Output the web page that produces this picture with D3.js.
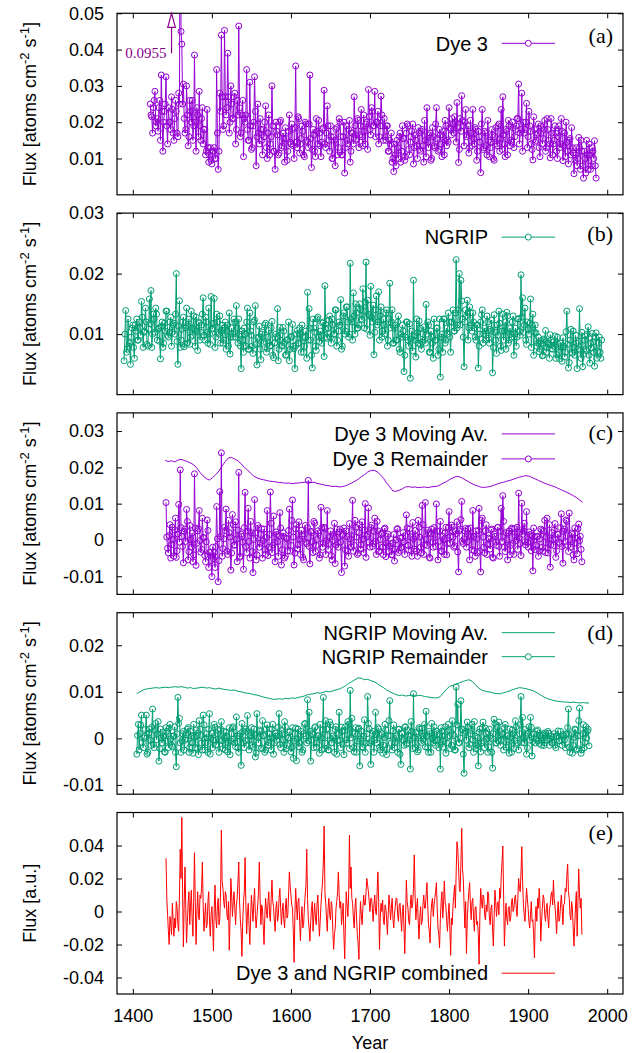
<!DOCTYPE html>
<html>
<head>
<meta charset="utf-8">
<script src="https://cdn.jsdelivr.net/npm/d3@7/dist/d3.min.js"></script>
<style>
  body { margin: 0; background: #fff; }
  svg { display: block; font-family: "Liberation Sans", Arial, sans-serif; }
  .tick-label { font-size: 18px; fill: #000; }
  .legend-text { font-size: 20px; }
  .panel-label { font-family: "Liberation Serif", "Times New Roman", serif; font-size: 22px; }
</style>
</head>
<body>
<div id="chart"></div>
<script>
// All fluxes below are in units of 10^-3 (atoms cm^-2 s^-1, or a.u. for the combined series)
// Each series is yearly unless a step is given

// (a) Dye 3 raw, 1422-1986
const dye3Start = 1422;
const dye3 = [
  25, 22, 21.5, 17, 24, 26, 28.5, 19, 20, 21, 17.5, 24, 26, 15, 33, 23, 12, 20, 23, 25,
  32.5, 19, 14, 24, 20, 20, 18, 27, 23.5, 17, 15, 21, 26, 23, 17, 16, 28, 25, 95.5, 45,
  41.5, 25, 30.5, 21, 17, 18, 30, 22, 13.5, 16, 26, 23, 20, 26, 15, 19, 38.5, 20, 12, 24,
  22, 16, 28.5, 19, 15, 21, 24, 14, 18, 18, 11, 12, 23.5, 13, 9, 11, 13, 9.5, 8.5, 12,
  12, 13, 10, 10, 34.5, 17, 7, 12, 28, 23, 44, 27, 18, 19, 45.3, 27, 22, 24, 39, 27,
  17, 20, 30, 25, 21, 21, 27, 28, 14, 18, 26, 22, 46.5, 24, 16, 17, 22, 26, 10.5, 21,
  20, 22, 34.5, 18, 15, 15, 31, 19, 12.5, 13, 19, 20, 32.5, 23, 8, 16, 25, 17, 14, 21,
  18, 15, 11, 18, 16, 20, 24.5, 13, 10, 17, 22, 11, 14, 16, 30, 19, 12, 12, 7, 20,
  17.5, 16.5, 11, 11.5, 20, 20.5, 13, 13.5, 17, 15.5, 9, 18.5, 15.5, 9.5, 12, 17.5, 22, 14.5, 14, 19.5,
  18, 13.5, 10, 18.5, 35.5, 14.5, 13, 21.5, 21, 11.5, 14, 15.5, 19, 17.5, 11, 10.5, 20, 19.5, 15, 14.5,
  13, 19.5, 33, 15.5, 7.5, 12.5, 18, 16.5, 12, 10.5, 21, 17.5, 14, 20.5, 17, 13.5, 10.5, 14.5, 18, 18.5,
  28.8, 14, 13, 17, 24.5, 19, 15, 12, 19, 16, 10, 10, 16, 15, 8, 18, 18.5, 11, 13, 21,
  20, 16, 11, 11, 16, 20, 6, 13, 19, 15, 14, 18, 20.5, 9, 12, 17, 17, 14, 27, 19,
  15, 15.5, 21, 20.5, 13, 16.5, 19, 23.5, 16, 13.5, 22, 17.5, 14, 19.5, 20, 12.5, 29, 21.5, 18, 16.5,
  24, 23, 19, 19, 28.5, 16, 20, 20, 23, 14, 16, 19, 27.2, 22, 19, 15, 21, 16, 15, 19,
  19, 12, 12, 15, 14, 17, 9, 10, 6.4, 14, 11, 8, 15, 13, 10, 16, 17, 9, 12, 19,
  15.5, 15.5, 9.5, 10.5, 17, 19.5, 19, 12.5, 11, 14.5, 16, 17.5, 19.5, 8.5, 13, 16.5, 15, 13.5, 10, 18.5,
  17, 12.5, 12, 17.5, 18, 13.5, 9, 20.5, 15, 10.5, 24, 14.5, 13, 16.5, 17, 9.5, 10, 18.5, 16, 13.5,
  13, 19.5, 24, 15.5, 12, 12.5, 18, 16.5, 14, 10.5, 16, 17.5, 11, 20.5, 19, 13.5, 15, 14.5, 24, 18.5,
  18, 16.5, 21, 19.5, 17, 21.5, 20, 14.5, 25.4, 18.5, 8.9, 12.5, 21, 17.5, 27.3, 20.5, 19, 13.5, 20, 23.5,
  16, 16.5, 19, 11.5, 13, 20.5, 17, 13.5, 23.5, 15.5, 14, 18.5, 18, 9.5, 12, 17.5, 16, 14.5, 6.1, 19.5,
  23.5, 12.5, 13, 17.5, 17, 13.5, 11, 20.5, 15, 10.5, 13, 14.5, 18, 16.5, 10, 9.5, 16, 18.5, 14, 13.5,
  19, 19.5, 12, 15.5, 23.5, 12.5, 27, 16.5, 14, 10.5, 18, 17.5, 11, 20.5, 19, 13.5, 15, 14.5, 20, 18.5,
  13, 16, 18, 19, 21, 21, 30.5, 14, 17, 18, 28, 12, 20, 17, 18, 20, 25.2, 13, 16, 23,
  19, 17.5, 14, 12.5, 9.6, 21.5, 18, 14.5, 15, 16.5, 17, 19.5, 13, 10.5, 19, 18.5, 14, 15.5, 18, 20.5,
  12, 13, 21, 18, 15, 14, 10.2, 21, 17, 11, 14, 15, 19, 17, 12, 10, 16, 19, 13, 14,
  21, 17.5, 9.4, 13.5, 17, 10.5, 20, 14.5, 12, 8.5, 15, 15.5, 11, 18.5, 13, 11.5, 5.8, 9.5, 11, 13,
  8, 10, 15.8, 13, 7, 15, 12, 8, 4.6, 12, 10, 6, 15, 11, 7, 14, 11, 7, 8, 13,
  12, 10, 14.9, 8, 4.6
];

// (b) NGRIP raw, 1389-1993
const ngripStart = 1389;
const ngrip = [
  5.6, 10, 13.9, 7, 7.5, 12.5, 8.0, 8.5, 5.0, 9.5, 11.0, 11.5, 7.8, 6, 11.5, 10.5, 12.5, 9, 9.0, 12,
  11.0, 9.8, 15.4, 12.8, 7.8, 10.3, 10.5, 14.3, 12.0, 8.3, 8.0, 10.8, 15.8, 11.8, 17.2, 7.8, 10.0, 13.3, 12.5, 10.3,
  14.3, 13.3, 9.0, 10.8, 11.0, 8.8, 5.9, 11.3, 12.0, 7.8, 8.5, 11.8, 10.5, 13.8, 13.8, 9.8, 9.5, 10.3, 12.0, 12.8,
  8.0, 10.3, 11.5, 11.8, 10.0, 13.3, 20.0, 8.8, 5.0, 11.3, 15.5, 7.8, 9.0, 10.8, 12.0, 12.8, 7.9, 8.3, 11.0, 14.3,
  8.5, 11.3, 12.5, 8.3, 9.5, 13.8, 11.0, 9.8, 13.0, 10.8, 8.0, 12.8, 10.5, 7.3, 12.0, 11.8, 9.0, 10.3, 11.5, 13.3,
  16.0, 9.8, 9.0, 12.8, 12.0, 10.3, 8.5, 14.3, 10.0, 8.3, 16.2, 10.8, 11.0, 11.8, 15.9, 7.8, 9.5, 13.3, 12.0, 10.3,
  10.0, 13, 8.5, 10.5, 11.5, 8.5, 9.0, 11, 12.0, 7.5, 10.5, 11.5, 8.0, 13.5, 6.7, 9.5, 11.0, 10, 9.5, 12.5,
  12.0, 9.5, 14.7, 11, 8.5, 12.5, 10.0, 8, 4.3, 10.5, 9.0, 7, 11.0, 10, 8.0, 12, 14.3, 7.5, 7.5, 13.5,
  10.5, 9.8, 8.0, 6.8, 12.0, 12.3, 14.7, 8.3, 4.9, 9.3, 9.5, 11.3, 7.5, 5.8, 10.0, 10.3, 8.5, 8.8, 11.5, 11.8,
  7.0, 7.6, 9.5, 10.6, 8.0, 8.1, 11.0, 12.1, 6.5, 6.1, 8.5, 8.6, 10.0, 9.6, 14.2, 5.6, 7.5, 11.1, 9.0, 8.1,
  8.0, 11.1, 10.5, 8.6, 6.5, 6.6, 9.0, 9.1, 12.0, 5.6, 7.5, 9.6, 9.5, 11.6, 8.0, 7.6, 4.3, 8.1, 10.0, 10.6,
  8.5, 8.5, 11.0, 10, 7.0, 11.5, 9.5, 7, 8.0, 9.5, 10.5, 6, 16.9, 9, 14.2, 11, 9.0, 6.5, 4.4, 12.5,
  11.0, 10.3, 8.0, 7.3, 12.5, 12.8, 9.5, 8.8, 10.5, 9.8, 8.5, 11.8, 12.0, 6.3, 18.0, 10.8, 9.5, 9.3, 11.0, 12.3,
  13.0, 9.5, 8.5, 12.5, 11.5, 10, 10.0, 14, 14.0, 8, 9.0, 10.5, 12.0, 11.5, 15.7, 7.5, 8.0, 13, 13.5, 10,
  10.5, 14.5, 14.5, 12, 9.5, 10, 21.7, 12.5, 12.0, 9, 16.8, 13, 10.0, 15, 13.5, 11, 11.0, 11.5, 15.0, 14,
  12.5, 12.3, 17.5, 13.8, 11.0, 15.3, 21.9, 10.8, 15.6, 13.3, 13.0, 9.8, 17.9, 12.8, 12.0, 14.8, 6.6, 10.3, 14.0, 16.3,
  11.5, 12, 17.0, 9, 13.0, 14.5, 9.5, 10.5, 12.5, 11.5, 10.0, 13.5, 14.0, 8, 9.0, 12.5, 18.4, 11, 12.0, 14,
  8.5, 8.5, 11.0, 11.5, 9.0, 9, 12.0, 13, 7.5, 7, 10.0, 9.5, 11.5, 10.5, 3.8, 6.5, 9.5, 12, 12.0, 9,
  8.0, 11.7, 2.7, 9.2, 10.5, 7.2, 18.9, 9.7, 9.0, 6.2, 12.5, 10.2, 8.5, 12.2, 11.0, 8.2, 7.5, 8.7, 10.0, 11.2,
  9.0, 8.5, 14.9, 10, 12.0, 11.5, 7.0, 7, 10.5, 9.5, 8.5, 6, 12.5, 9, 9.0, 11, 11.0, 6.5, 7.5, 12.5,
  2.9, 9.5, 10.0, 7, 12.5, 12.5, 8.5, 9, 11.0, 10, 13.5, 12, 9.5, 7, 12.0, 12, 14.0, 10.5, 10.5, 13.5,
  22.3, 11, 11.5, 14, 20.0, 11.5, 18.9, 15.5, 12.5, 9.5, 4.6, 12, 14.0, 13, 15.6, 9, 11.0, 14.5, 13.5, 11.5,
  10.5, 13.5, 12.0, 11, 9.5, 9, 11.5, 11.5, 4.4, 8, 10.0, 12, 13.2, 14, 8.5, 10, 11.0, 10.5, 9.0, 13,
  12.0, 9.3, 8.5, 10.8, 10.5, 12.3, 3.6, 7.8, 13.2, 10.3, 9.0, 6.8, 11.5, 9.8, 13.8, 11.8, 8.0, 7.3, 10.5, 13.3,
  9.0, 10.5, 12.0, 7.5, 13.6, 13, 8.5, 9, 11.0, 10, 9.5, 12, 13.0, 6.5, 10.0, 11, 8.0, 9.5, 12.5, 12.5,
  10.5, 9.8, 19.8, 12.8, 16.0, 10.3, 11.5, 14.3, 9.0, 8.3, 12.0, 10.8, 10.0, 11.8, 15.8, 7.8, 11.5, 13.3, 6.5, 10.3,
  11.5, 10.2, 8.0, 8.5, 9.5, 7.1, 7.5, 8.9, 8.5, 6.4, 6.5, 9.2, 9.0, 10.6, 7.0, 7.8, 8.5, 8.2, 6.0, 9.9,
  9.0, 7.6, 7.5, 8.7, 8.0, 9.7, 6.0, 6.6, 9.5, 8.3, 7.0, 5.9, 8.5, 8, 5.5, 9.4, 8.0, 6.2, 7.0, 10.4,
  13.8, 8.3, 4.4, 5.3, 9.0, 10.8, 7.0, 6.8, 10.5, 7.8, 6.5, 9.8, 8.5, 4.3, 7.5, 8.8, 14.2, 7.3, 6.0, 10.3,
  4.6, 6.7, 9.0, 9.7, 7.5, 7.2, 10.0, 11.2, 6.5, 5.2, 8.5, 7.7, 10.1, 8.7, 7.0, 4.7, 9.5, 10.2, 6.0, 7.2,
  8.5, 9.5, 7.0, 6, 9.0
];

// (c) Dye 3 moving average, 1441-1969, every 4 years
const dye3MAStart = 1441;
const dye3MAStep = 4;
const dye3MA = [
  21.9, 21.6, 21.8, 21.5, 22.0, 22.2, 21.9, 21.6, 21.2, 20.7,
  19.8, 18.6, 17.6, 16.9, 16.5, 17.2, 18.0, 19.0, 20.4, 21.6,
  22.6, 22.7, 22.3, 21.8, 21.0, 20.0, 19.3, 18.4, 17.6, 17.1,
  16.8, 16.6, 16.4, 16.2, 16.1, 16.0, 15.8, 15.8, 15.6, 15.7,
  15.5, 15.6, 15.7, 15.8, 15.9, 15.9, 15.8, 15.9, 15.6, 15.4,
  15.2, 15.0, 14.9, 14.7, 14.8, 14.6, 14.7, 14.9, 15.3, 15.7,
  16.2, 16.7, 17.4, 18.0, 18.7, 19.1, 19.2, 18.8, 18.0, 17.0,
  15.7, 14.6, 13.5, 13.4, 13.7, 14.1, 14.6, 14.7, 14.5, 14.6,
  14.4, 14.5, 14.6, 14.4, 14.6, 14.7, 14.8, 15.2, 15.7, 16.1,
  16.7, 17.1, 17.5, 17.4, 17.0, 16.5, 16.0, 15.5, 15.1, 14.8,
  14.5, 14.5, 14.6, 14.8, 15.1, 15.4, 15.7, 15.9, 16.2, 16.4,
  16.7, 17.0, 17.3, 17.5, 17.7, 17.6, 17.2, 16.8, 16.4, 16.0,
  15.6, 15.3, 15.0, 14.7, 14.3, 13.9, 13.5, 13.1, 12.7, 12.2,
  11.7, 11.0, 10.4
];

// (c) Dye 3 remainder, 1442-1968
const dye3RemStart = 1442;
const dye3Rem = [
  10.3, 0.8, -2.3, -3.6, 1.2, 4.2, -5.0, -1.3, 3.5, 0.2, -4.5, 2.7, 6.0, -4.8, -3.0, 1.6, 9.8, -0.6, 19.3, 3.4,
  1.0, -1.8, -6.3, 2.4, 3.0, -0.4, 8.4, 5.1, -5.5, -3.2, 4.0, 0.1, -2.0, 1.9, -6.0, -4.1, 18.2, 3.3, -7.0, -0.9,
  2.5, 3.1, 8.1, -0.2, -3.4, -2.6, 6.0, 0.7, 0.6, -4.3, -6.0, -0.5, 5.5, 2.6, -7.6, -3.4, -3.5, -5.7, -10.1, -2,
  -5.1, -3.5, -7.6, -1.8, 9.2, 0.3, -11.5, -5.7, 13.3, 0.9, 24.0, -4.5, -2.4, 0.3, 3.5, 2.6, 8.5, -3.1, -4.0, 5.4,
  2.0, 0.8, -8.3, -3.6, 7.0, 4.2, -1.5, -1.3, 5.0, 0.2, -6.0, 2.7, 18.6, -4.8, -4.5, 1.6, 1.0, -0.6, -8.1, 3.4,
  13.1, -1.8, -3.5, 2.4, 8.7, -0.4, -5.0, 5.1, 2.0, -3.2, -9.0, 0.1, 11.1, 1.9, -5.5, -4.1, 4.0, 3.3, -2.0, -0.9,
  1.5, 3.1, -5.0, -0.2, 3.0, -2.6, -4.0, 0.7, 8.1, -4.3, -2.0, 1.5, 13.2, 4.6, -3.5, -1.4, 6.6, -0.7, -6.0, 2.2,
  1.5, -0.5, -4.5, 1.2, 7.5, 3.3, -6.9, -2.7, 2.0, 0.9, -5.0, -4.5, 0.5, 0.3, -3.0, 2.6, 8.5, -3.1, -1.5, 5.4,
  11.0, 0.8, -6.9, -3.6, 3.0, 4.2, -2.5, -1.3, 5.0, 0.2, -4.0, 2.7, 1.0, -4.8, -5.5, 1.6, 4.0, -0.6, -1.0, 3.4,
  16.4, -1.8, -6.6, 2.4, 2.0, -0.4, -3.5, 5.1, 4.6, -3.2, -1.5, 0.1, 2.5, 1.9, -5.0, -4.1, 9.0, 3.3, -2.0, -0.9,
  3.5, 3.1, -4.0, -0.2, 8.1, -2.6, -1.0, 0.7, 2.5, -4.3, -5.5, 1.5, 1.0, 4.6, -6.5, -1.4, 3.0, -0.7, -2.0, 2.2,
  3.0, -0.5, -9.0, 1.2, 1.5, 3.3, -7.2, -2.7, 2.5, 0.9, -3.0, -4.5, 4.5, 0.3, -2.0, 2.6, 10.9, -3.1, -1.5, 5.4,
  3.5, 0.8, -4.0, -3.6, 2.0, 4.2, -2.5, -1.3, 5.0, 0.2, -3.5, 2.7, 10.0, -4.8, 1.0, 1.6, 8.8, -0.6, -2.0, 3.4,
  4.1, -1.8, -1.0, 2.4, 6.0, -0.4, -4.0, 5.1, 2.5, -3.2, -3.0, 0.1, 1.5, 1.9, -2.0, -4.1, 3.0, 3.3, -4.6, -0.9,
  1.0, 1.6, -3.2, -1.7, -1.0, -4.1, -4.0, -0.8, 1.5, -5.8, -2.5, 0, 3.0, 3.1, -3.5, -2.9, 0.5, -2.2, -2.0, 0.7,
  2.0, -0.5, -4.0, 1.2, 6.9, 3.3, -1.5, -2.7, 3.0, 0.9, -3.0, -4.5, 4.8, 0.3, -2.5, 2.6, 1.0, -3.1, -4.5, 5.4,
  3.5, 0.8, -2.0, -3.6, 9.5, 4.2, -4.0, -1.3, 10.3, 0.2, -1.5, 2.7, 2.0, -4.8, -5.0, 1.6, 3.0, -0.6, -2.0, 3.4,
  1.5, -1.8, 9.9, 2.4, -5.5, -0.4, 2.5, 5.1, -3.0, -3.2, 1.0, 0.1, -4.0, 1.9, 3.5, -4.1, -1.0, 3.3, 7.8, -0.9,
  1.0, 4.1, 3.5, 0.8, -2.0, -1.6, 2.5, 1.7, 5.0, -3.3, -8.8, 2.5, 3.0, 5.6, 10.6, -0.4, -1.0, 0.3, 2.5, 3.2,
  -2.0, -0.5, 3.0, 1.2, -5.5, 3.3, 1.0, -2.7, 8.1, 0.9, -3.0, -4.5, 2.5, 0.3, -3.5, 2.6, 8.7, -3.1, -8.8, 5.4,
  6.0, 0.8, -2.0, -3.6, 2.5, 4.2, -4.0, -1.3, 0.5, 0.2, -2.5, 2.7, 3.0, -4.8, -5.0, 1.6, 1.0, -0.6, -1.5, 3.4,
  3.5, -1.8, -4.5, 2.4, 8.7, -0.4, 12.2, 5.1, -2.0, -3.2, 2.0, 0.1, -5.5, 1.9, 2.5, -4.1, -1.5, 3.3, 3.0, -0.9,
  -4.0, 3.1, 1.0, -0.2, 3.5, -2.6, 12.9, 0.7, -1.0, -4.3, 10.1, 1.5, 2.5, 4.6, -0.5, -1.4, 7.8, -0.7, -2.0, 2.2,
  1.5, -0.5, -3.0, 1.2, -8.5, 3.3, 1.0, -2.7, -1.5, 0.9, 1.0, -4.5, -3.0, 0.3, 3.0, 2.6, -2.0, -3.1, 2.5, 5.4,
  -3.5, 0.8, 6.0, -3.6, -1.0, 4.2, -7.5, -1.3, 2.0, 0.2, -1.5, 2.7, 4.5, -4.8, -3.0, 1.6, 1.5, -0.6, -1.0, 3.4,
  7.2, -1.8, -6.4, 2.4, 3.0, -0.4, 5.5, 5.1, -1.5, -3.2, 7.4, 0.1, -2.0, 1.9, 1.5, -4.1, -5.5, 3.3, 0.5, -0.9,
  -3.8, 3.1, 4.4, -0.2, 1.0, -2.6, -6.0
];

// (d) NGRIP moving average, 1405-1977, every 4 years
const ngripMAStart = 1405;
const ngripMAStep = 4;
const ngripMA = [
  9.6, 10.0, 10.4, 10.6, 10.7, 10.8, 10.9, 10.8, 10.9, 11.0,
  10.9, 11.0, 11.1, 11.0, 11.1, 11.0, 10.8, 10.9, 10.7, 10.8,
  10.9, 11.0, 10.8, 10.9, 10.7, 10.6, 10.8, 10.6, 10.5, 10.4,
  10.3, 10.4, 10.1, 10.0, 9.8, 9.7, 9.6, 9.4, 9.3, 9.1,
  8.9, 8.7, 8.6, 8.4, 8.4, 8.5, 8.4, 8.6, 8.5, 8.7,
  8.6, 8.8, 8.9, 9.1, 9.4, 9.5, 9.6, 9.8, 9.7, 9.9,
  10.1, 10.0, 10.2, 10.4, 10.6, 10.9, 11.3, 11.8, 12.2, 12.6,
  13.0, 12.9, 12.6, 12.7, 12.4, 12.2, 11.8, 11.3, 10.9, 10.4,
  10.0, 9.7, 9.4, 9.2, 9.3, 9.1, 9.2, 9.3, 9.1, 9.2,
  9.2, 9.0, 8.9, 8.8, 8.7, 8.7, 9.0, 9.8, 10.6, 11.2,
  11.4, 11.7, 11.9, 12.2, 12.4, 12.6, 12.3, 11.6, 10.9, 10.4,
  10.2, 10.0, 9.9, 9.7, 9.6, 9.6, 9.8, 10.0, 10.2, 10.5,
  10.7, 10.9, 10.8, 10.7, 10.5, 10.3, 10.0, 9.6, 9.2, 8.8,
  8.5, 8.3, 8.1, 8.0, 7.9, 7.8, 7.8, 7.7, 7.8, 7.7,
  7.6, 7.7, 7.6, 7.6
];

// (d) NGRIP remainder, 1405-1977
const ngripRemStart = 1405;
const ngripRem = [
  -3.4, 0.6, 3.0, -2.5, 1.0, 2.9, 5.0, -0.9, -2.0, 0.1, 0.5, 1.9, 5.0, -3.4, -3.0, 1.1, 2.0, -0.4, -1.5, 2.4,
  6.3, -1.3, -2.0, 1.7, 3.2, -0.3, 1.0, 3.6, -4.9, -2.2, 2.0, 0.1, -1.0, 1.3, 0.5, -2.9, -3.0, 2.3, 1.5, -0.6,
  -2.0, 2.2, 3.0, -0.1, -1.5, -1.8, 0.5, 0.5, 2.5, -3.0, -6.1, 1.0, 8.8, 3.2, 4.3, -1.0, -3.0, -0.5, 1.0, 1.5,
  -2.5, -0.4, 0.0, 0.8, 2.0, 2.3, -3.0, -1.9, 1.5, 0.6, -1.0, -3.2, 3.0, 0.2, -2.0, 1.8, 0.5, -2.2, -3.5, 3.8,
  2.0, 0.6, -1.0, -2.5, 5.0, 2.9, -2.5, -0.9, 1.0, 0.1, -3.0, 1.9, 5.3, -3.4, 0.0, 1.1, -2.0, -0.4, 3.0, 2.4,
  -1.5, -1.3, 1.0, 1.7, -3.0, -0.3, 2.0, 3.6, -0.5, -2.2, 1.5, 0.1, -2.5, 1.3, 0.5, -2.9, -1.0, 2.3, -3.5, -0.6,
  1.0, 2.2, 2.5, -0.1, -1.0, -1.8, 4.6, 0.5, -2.0, -3.0, 0.5, 1.0, -5.8, 3.2, 1.5, -1.0, -2.0, -0.5, 2.0, 1.5,
  4.9, -0.4, -2.5, 0.8, 0.5, 2.3, -1.5, -1.9, 2.0, 0.6, -4.0, -3.2, 5.3, 0.2, -1.0, 1.8, 1.5, -2.2, -2.0, 3.8,
  0.5, 0.6, -3.0, -2.5, 2.0, 2.9, -1.5, -0.9, 1.0, 0.1, -2.5, 1.9, 3.0, -3.4, -1.0, 1.1, 0.5, -0.4, 0.5, 2.4,
  5.3, -1.3, -2.0, 1.7, 1.0, -0.3, -3.0, 3.6, 2.5, -2.2, -1.5, 0.1, 0.0, 1.3, 1.5, -2.9, -2.0, 2.3, -4.3, -0.6,
  1.0, 2.2, -4.8, -0.1, 2.0, -1.8, -1.0, 0.5, 1.5, -3.0, -2.5, 1.0, 3.0, 3.2, 0.5, -1.0, 8.3, -0.5, 5.6, 1.5,
  -4.9, -0.4, 1.0, 0.8, -2.0, 2.3, 2.5, -1.9, -1.0, 0.6, 0.5, -3.2, 3.0, 0.2, -2.5, 1.8, 8.8, -2.2, -1.0, 3.8,
  2.0, 0.6, -2.5, -2.5, 3.5, 2.9, -1.0, -0.9, 0.5, 0.1, -3.0, 1.9, 2.5, -3.4, -0.5, 1.1, 5.6, -0.4, -2.0, 2.4,
  1.5, -1.3, -3.5, 1.7, 2.5, -0.3, -1.0, 3.6, 3.0, -2.2, 10.3, 0.1, 4.3, 1.3, -2.0, -2.9, 1.0, 2.3, -3.0, -0.6,
  2.0, 2.2, -5.9, -0.1, 1.5, -1.8, -2.0, 0.5, 4.0, -3.0, -1.0, 1.0, 9.0, 3.2, 2.0, -1.0, -5.6, -0.5, 1.0, 1.5,
  -3.0, -0.4, 5.6, 0.8, -1.0, 2.3, 2.0, -1.9, -2.5, 0.6, 1.0, -3.2, -1.5, 0.2, 3.0, 1.8, -3.5, -2.2, 0.5, 3.8,
  8.1, 0.6, -1.0, -2.5, 1.5, 2.9, -2.0, -0.9, 0.5, 0.1, -3.0, 1.9, 2.0, -3.4, -5.6, 1.1, 1.0, -0.4, -1.5, 2.4,
  2.5, -1.3, -1.0, 1.7, 0.5, -0.3, -6.6, 3.6, 1.5, -2.2, 9.6, 0.1, -2.0, 1.3, 1.0, -2.9, -2.5, 2.3, 2.0, -0.6,
  -1.0, 2.2, 0.5, -0.1, 3.0, -1.8, 5.8, 0.5, -2.0, -3.0, 1.5, 1.0, -3.0, 3.2, 0.0, -1.0, 2.5, -0.5, -1.5, 1.5,
  1.0, -0.4, -2.0, 0.8, -6.6, 2.3, 1.5, -1.9, -0.5, 0.6, 2.5, -3.2, -1.0, 0.2, 3.0, 1.8, 0.5, -2.2, -1.5, 3.8,
  2.0, 0.6, -2.5, -2.5, 11.0, 2.9, 7.3, -0.9, -1.0, 0.1, 8.1, 1.9, 2.0, -3.4, -7.5, 1.1, 1.5, -0.4, 3.5, 2.4,
  -2.0, -1.3, 1.0, 1.7, 3.0, -0.3, -3.0, 3.6, 0.5, -2.2, -1.5, 0.1, -5.9, 1.3, 2.0, -2.9, -1.0, 2.3, 3.5, -0.6,
  -2.0, 2.2, 1.0, -0.1, -3.0, -1.8, 2.0, 0.5, 0.0, -3.0, -6.4, 1.0, 4.1, 3.2, -1.0, -1.0, 2.5, -0.5, 3.5, 1.5,
  -1.5, -0.4, 1.0, 0.8, -2.5, 2.3, 3.0, -1.9, 0.5, 0.6, -1.5, -3.2, 2.0, 0.2, -3.0, 1.8, 1.0, -2.2, -0.5, 3.8,
  2.5, 0.6, -1.0, -2.5, 1.0, 2.9, 9.0, -0.9, 4.5, 0.1, -1.0, 1.9, 0.5, -3.4, -2.0, 1.1, 2.5, -0.4, 4.5, 2.4,
  -3.8, -0.7, 1.0, 0.9, -1.0, -0.2, 1.5, 1.8, -0.5, -1.1, 0.5, 0.1, -1.5, 0.7, 1.0, -1.5, -1.0, 1.2, 0.5, -0.3,
  1.5, 1.1, -1.5, -0.1, 0.5, -0.9, -1.0, 0.3, 1.0, -1.5, -2.0, 0.5, 0.5, 1.6, -0.5, -0.5, 1.5, -0.3, -1.5, 0.8,
  0.5, -0.4, -2.0, 0.8, 1.0, 2.3, 6.3, -1.9, -3.0, 0.6, 1.0, -3.2, -1.5, 0.2, 2.0, 1.8, -2.5, -2.2, 0.5, 3.8,
  6.5, 0.6, -3.2, -2.5, 1.0, 2.9, -2.0, -0.9, 2.5, 0.1, 1.5, 1.9, -1.6
];

// (e) Dye 3 and NGRIP combined (a.u.), 1442-1968
const combinedStart = 1442;
const combined = [
  32.3, 8, -2, -12, -20, -3, -8, -14, 5, -6, -15, -4, -10, 6, 3, -8, -12, 10, 37.7, 20,
  57, 10, -21.5, 5, 27, 2, -19, -6, 5, 12, -8, 3, 13, -4, -15, 8, 35.6, 6, -20, -2,
  12, -2, -5, 10, 8, 14, 30, 4, -12, -3, 5, -10, -8, 6, 12, -6, -15, -2, 3, -8,
  -24, 2, 16, -4, -10, 4, 8, -8, -5, 12, 49.4, 18, 14, 6, 2, 12, 10, -2, -5, 6,
  -23.5, -4, 20, 10, -3, 6, 12, 2, -8, 4, 8, 18, 30, 6, -5, -12, -27.2, -6, 6, 12,
  32.7, 4, -13.5, -2, 5, -8, -20, -4, 10, 2, -6, 6, 14, -2, -10, -3, 4, 12, 30, 8,
  -8, 4, 2, -10, -20, -2, 8, 0, -4, 6, 12, -2, -6, 8, 19, 6, 3, -6, -12, 2,
  6, -6, -3, 8, 14, 2, -8, 0, 5, -5, -10, 2, 8, -4, -2, 10, 24, 16, 10, 4,
  2, -12, -30.8, -2, 14, 4, -5, 6, 8, -6, -17.7, -4, 3, -10, -8, 2, 10, 16, 37.7, 8,
  -5, -10, -18, -6, 2, 6, -12, -2, 5, -4, -8, 4, 10, -3, -15, -6, 4, 12, 18, 30,
  51.8, 12, 5, -4, -12, 2, 8, -2, -5, 6, 3, -12, -23, -14, -10, 2, 6, 12, 24, 10,
  2, 6, -8, -2, 5, -14, -28.8, -6, 12, 4, -3, 10, 46.3, 14, 27, 8, 5, -4, -10, 2,
  8, -4, -14, -20, -29, -6, 6, -2, -8, 2, 10, 4, 4, 12, 20, 16, 12, 6, 0, 8,
  8, 2, -6, 4, 10, 0, -2, 12, 24, 6, -23, -4, 5, 0, 7, -6, -8, 4, 2, -4,
  -14, -2, 10, 4, -5, 2, 8, -4, -10, -2, 3, 8, 8, -2, -6, 4, 5, -4, -12, 0,
  4, -10, -25.5, -4, 19, 6, 2, -6, -8, 4, 10, 2, 5, 14, 34.3, 10, -5, 2, 8, -6,
  -16.7, -4, 3, -8, -6, 4, 10, 2, 2, 10, 17.5, 4, -8, -12, -19, -2, 5, 8, -3, 4,
  8, 12, 17.5, 2, -10, -14, -22, -4, 6, 12, -4, 4, 18.5, 6, 3, -6, -12, -2, 5, -10,
  -26.6, -4, -8, 4, 10, 16, 2, 24, 42.3, 38, 27, 14, 12, 30, 50.4, 26, 20, 4, -10, 6,
  -25.5, -6, 5, 12, 17.5, 4, -5, 6, 8, -4, -12, 2, 3, -8, -6, -14, -32, -2, 14, 6,
  2, 10, 8, -2, -5, 4, 0, 12, 10, -4, -8, 2, 4, -10, -21, -4, 13, 6, -3, 4,
  6, -2, 14, 8, 22, 30, 39.7, 10, -21, -6, 5, -4, -8, 2, 3, -6, -4, 6, 8, 0,
  2, 8, 10, 2, -3, 8, 20, 14, 12, 24, 39.3, 18, 5, -2, -6, 4, 14, 8, 2, -6,
  -10, -2, 6, -6, -5, -14, -28.2, -4, 3, -6, 8, 2, 14, 4, -18, -6, 2, 10, 8, -2,
  -6, 2, 5, -4, -10, 2, 4, 10, 12, 4, 19, 8, 3, -4, -13.5, -2, 6, -6, -4, 4,
  10, 2, -8, 4, 5, 14, 12, 22, 28.8, 12, 8, -2, -5, 6, 2, -10, -21, -8, 4, 12,
  -15, 6, 25.8, 10, 2, 8, -14
];

// Off-scale Dye 3 value marked with an arrow in panel (a)
const outlierLabel = "0.0955";
const outlierArrow = { year: 1449, from: 39, to: 50 };

const xTicks = [1400, 1500, 1600, 1700, 1800, 1900, 2000];

const purple = "#9400d3";
const green = "#009e73";
const red = "#ff0000";

const width = 636;
const height = 1053;
const plotLeft = 117;
const plotRight = 623;
const panelHeight = 181.5;
const panelTop = i => 13.3 + i * 199.8;

const panels = [
  {
    id: "a", yDomain: [0, 50], yTicks: [10, 20, 30, 40, 50], units: true, labelDy: 24,
    series: [{ values: dye3, start: dye3Start, step: 1, color: purple, markers: true, label: "Dye 3", legendDy: 30 }]
  },
  {
    id: "b", yDomain: [0, 30], yTicks: [10, 20, 30], units: true, labelDy: 22,
    series: [{ values: ngrip, start: ngripStart, step: 1, color: green, markers: true, label: "NGRIP", legendDy: 24 }]
  },
  {
    id: "c", yDomain: [-15, 35], yTicks: [-10, 0, 10, 20, 30], units: true, labelDy: 21,
    series: [
      { values: dye3MA, start: dye3MAStart, step: dye3MAStep, color: purple, markers: false, label: "Dye 3 Moving Av.", legendDy: 21 },
      { values: dye3Rem, start: dye3RemStart, step: 1, color: purple, markers: true, label: "Dye 3 Remainder", legendDy: 46 }
    ]
  },
  {
    id: "d", yDomain: [-12, 27], yTicks: [-10, 0, 10, 20], units: true, labelDy: 21.3,
    series: [
      { values: ngripMA, start: ngripMAStart, step: ngripMAStep, color: green, markers: false, label: "NGRIP Moving Av.", legendDy: 20 },
      { values: ngripRem, start: ngripRemStart, step: 1, color: green, markers: true, label: "NGRIP Remainder", legendDy: 44 }
    ]
  },
  {
    id: "e", yDomain: [-50, 60], yTicks: [-40, -20, 0, 20, 40], units: false, labelDy: 21.8,
    series: [{ values: combined, start: combinedStart, step: 1, color: red, markers: false, label: "Dye 3 and NGRIP combined", legendDy: 160.7 }]
  }
];

const svg = d3.select("#chart")
  .append("svg")
  .attr("width", width)
  .attr("height", height);

const x = d3.scaleLinear().domain([1380, 2020]).range([plotLeft, plotRight]);

// 10^-3 units -> tick text like 0.01, -0.02, 0
const fmt = d => d === 0 ? "0" : String(+(d / 1000).toFixed(3));

panels.forEach((p, i) => {
  const top = panelTop(i);
  const bottom = top + panelHeight;
  const y = d3.scaleLinear().domain(p.yDomain).range([bottom, top]);
  const isLast = i === panels.length - 1;

  const g = svg.append("g");

  svg.append("clipPath")
    .attr("id", "clip-" + p.id)
    .append("rect")
    .attr("x", plotLeft)
    .attr("y", top)
    .attr("width", plotRight - plotLeft)
    .attr("height", panelHeight);

  const plot = g.append("g").attr("clip-path", `url(#clip-${p.id})`);

  p.series.forEach(s => {
    const pts = s.values.map((v, k) => ({ year: s.start + k * s.step, v: v }));
    plot.append("path")
      .datum(pts)
      .attr("fill", "none")
      .attr("stroke", s.color)
      .attr("stroke-width", 1)
      .attr("d", d3.line().x(d => x(d.year)).y(d => y(d.v)));

    if (s.markers) {
      plot.append("g")
        .selectAll("circle")
        .data(pts)
        .join("circle")
        .attr("cx", d => x(d.year))
        .attr("cy", d => y(d.v))
        .attr("r", 3)
        .attr("fill", "none")
        .attr("stroke", s.color)
        .attr("stroke-width", 1);
    }

    // Legend entry
    const ly = top + s.legendDy;
    g.append("text")
      .attr("class", "legend-text")
      .attr("x", 488)
      .attr("y", ly)
      .attr("dy", "0.36em")
      .attr("text-anchor", "end")
      .text(s.label);
    g.append("line")
      .attr("x1", 501.7).attr("x2", 555)
      .attr("y1", ly).attr("y2", ly)
      .attr("stroke", s.color)
      .attr("stroke-width", 1);
    if (s.markers) {
      g.append("circle")
        .attr("cx", 528.3).attr("cy", ly).attr("r", 3)
        .attr("fill", "#fff")
        .attr("stroke", s.color)
        .attr("stroke-width", 1);
    }
  });

  // Axes: inward ticks on all four sides
  const left = g.append("g")
    .attr("transform", `translate(${plotLeft},0)`)
    .call(d3.axisLeft(y).tickValues(p.yTicks).tickSize(-5).tickPadding(13).tickFormat(fmt));
  const right = g.append("g")
    .attr("transform", `translate(${plotRight},0)`)
    .call(d3.axisRight(y).tickValues(p.yTicks).tickSize(-5).tickFormat(""));
  const topAx = g.append("g")
    .attr("transform", `translate(0,${top})`)
    .call(d3.axisTop(x).tickValues(xTicks).tickSize(-5).tickFormat(""));
  const botAx = g.append("g")
    .attr("transform", `translate(0,${bottom})`)
    .call(d3.axisBottom(x).tickValues(xTicks).tickSize(-5).tickPadding(15.5)
      .tickFormat(isLast ? d3.format("d") : ""));

  [left, right, topAx, botAx].forEach(ax => {
    ax.select(".domain").remove();
    ax.attr("font-family", null).attr("font-size", null);
    ax.selectAll("line").attr("stroke", "#000");
    ax.selectAll("text").attr("class", "tick-label");
  });

  // Frame
  g.append("rect")
    .attr("x", plotLeft)
    .attr("y", top)
    .attr("width", plotRight - plotLeft)
    .attr("height", panelHeight)
    .attr("fill", "none")
    .attr("stroke", "#000")
    .attr("stroke-width", 1.2);

  // Panel letter
  g.append("text")
    .attr("class", "panel-label")
    .attr("x", 613)
    .attr("y", top + p.labelDy + 5.7)
    .attr("text-anchor", "end")
    .text(`(${p.id})`);

  // Y-axis label
  const cy = top + panelHeight / 2;
  const yl = g.append("text")
    .attr("transform", `translate(36,${cy}) rotate(-90)`)
    .attr("text-anchor", "middle")
    .style("font-size", "18px");
  if (p.units) {
    yl.append("tspan").text("Flux [atoms cm");
    yl.append("tspan").attr("dy", -7).style("font-size", "13px").text("-2");
    yl.append("tspan").attr("dy", 7).text(" s");
    yl.append("tspan").attr("dy", -7).style("font-size", "13px").text("-1");
    yl.append("tspan").attr("dy", 7).text("]");
  } else {
    yl.text("Flux [a.u.]");
  }

  // Outlier arrow in panel (a)
  if (p.id === "a") {
    const ax = x(outlierArrow.year);
    const y0 = y(outlierArrow.from);
    const y1 = y(outlierArrow.to);
    const headLen = 14;
    g.append("line")
      .attr("x1", ax).attr("x2", ax)
      .attr("y1", y0).attr("y2", y1 + headLen)
      .attr("stroke", "#8b008b")
      .attr("stroke-width", 1.2);
    g.append("path")
      .attr("d", `M${ax - 3.8},${y1 + headLen} L${ax},${y1} L${ax + 3.8},${y1 + headLen} Z`)
      .attr("fill", "none")
      .attr("stroke", "#8b008b")
      .attr("stroke-width", 1.2);
    g.append("text")
      .attr("x", ax - 5)
      .attr("y", y(37.7))
      .attr("text-anchor", "end")
      .style("font-family", "'Liberation Serif', 'Times New Roman', serif")
      .style("font-size", "15px")
      .attr("fill", "#8b008b")
      .text(outlierLabel);
  }
});

// X-axis title
svg.append("text")
  .attr("x", (plotLeft + plotRight) / 2)
  .attr("y", 1049)
  .attr("text-anchor", "middle")
  .style("font-size", "18px")
  .text("Year");
</script>
</body>
</html>
